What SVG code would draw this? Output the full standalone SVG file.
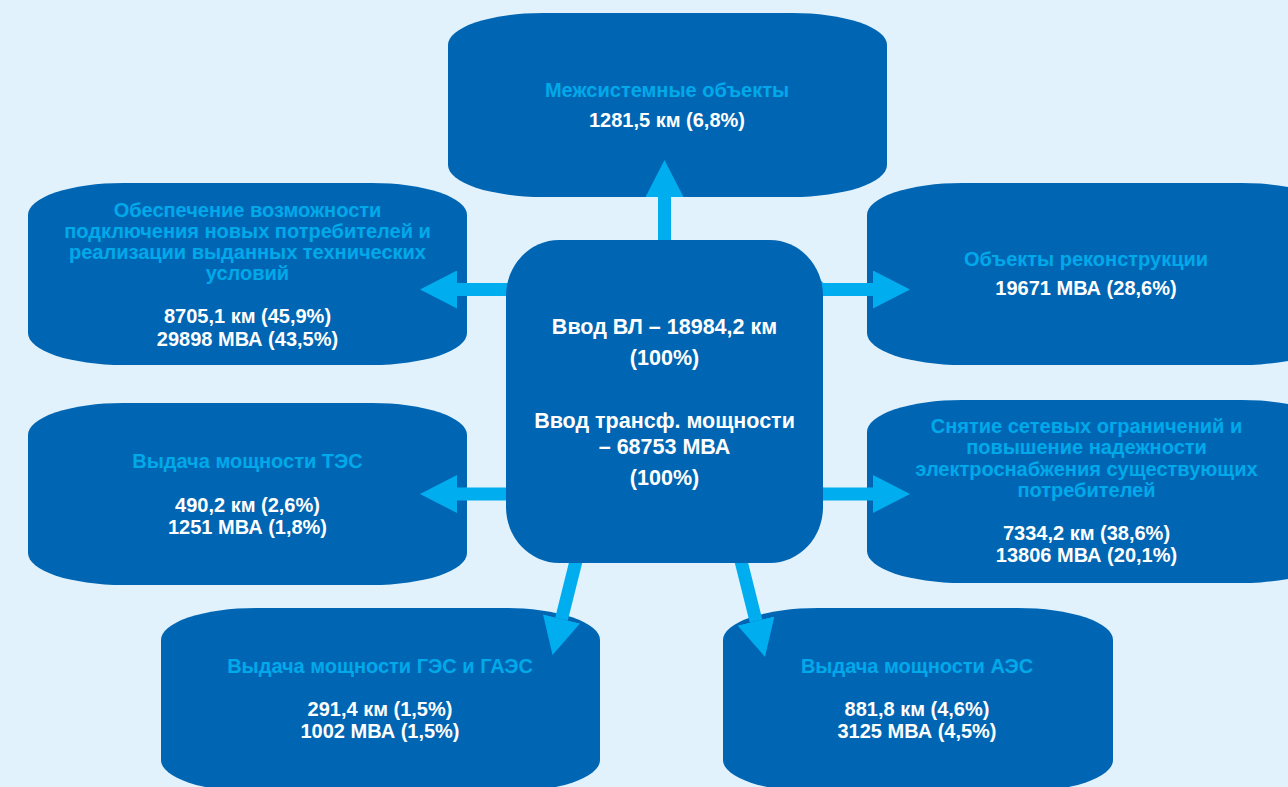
<svg xmlns="http://www.w3.org/2000/svg" width="1288" height="787" viewBox="0 0 1288 787">
<defs>
<style>
.box{fill:#0066B3}
.t{font-family:"Liberation Sans",Arial,sans-serif;font-weight:bold;font-size:20px;text-anchor:middle}
.ti{fill:#00A9EA}
.nu{fill:#FFFFFF}
.c{font-size:21.5px}
.conn{stroke:#00AEEF;stroke-width:13;fill:none;marker-end:url(#ah)}
</style>
<marker id="ah" viewBox="0 0 37 38" refX="0" refY="19" markerWidth="37" markerHeight="38" markerUnits="userSpaceOnUse" orient="auto">
<path d="M0,0 L37,19 L0,38 Z" fill="#00AEEF"/>
</marker>
</defs>
<rect width="1288" height="787" fill="#E1F2FC"/>

<g id="node-mezhsist">
<rect class="box" x="448" y="13" width="439" height="184" rx="95" ry="32"/>
<text class="t ti" x="667" y="97">Межсистемные объекты</text>
<text class="t nu" x="667" y="127">1281,5 км (6,8%)</text>
</g>

<g id="node-obespech">
<rect class="box" x="28" y="183" width="439" height="182" rx="95" ry="32"/>
<text class="t ti" x="247.5" y="217">Обеспечение возможности</text>
<text class="t ti" x="247.5" y="238">подключения новых потребителей и</text>
<text class="t ti" x="247.5" y="259">реализации выданных технических</text>
<text class="t ti" x="247.5" y="280">условий</text>
<text class="t nu" x="247.5" y="323">8705,1 км (45,9%)</text>
<text class="t nu" x="247.5" y="346">29898 МВА (43,5%)</text>
</g>

<g id="node-rekonstr">
<rect class="box" x="867" y="183" width="470" height="182" rx="95" ry="32"/>
<text class="t ti" x="1086" y="266">Объекты реконструкции</text>
<text class="t nu" x="1086" y="295">19671 МВА (28,6%)</text>
</g>

<g id="node-tes">
<rect class="box" x="28" y="403" width="439" height="182" rx="95" ry="32"/>
<text class="t ti" x="247.5" y="468">Выдача мощности ТЭС</text>
<text class="t nu" x="247.5" y="512">490,2 км (2,6%)</text>
<text class="t nu" x="247.5" y="534">1251 МВА (1,8%)</text>
</g>

<g id="node-snyatie">
<rect class="box" x="867" y="400" width="470" height="183" rx="95" ry="32"/>
<text class="t ti" x="1086.5" y="433">Снятие сетевых ограничений и</text>
<text class="t ti" x="1086.5" y="454">повышение надежности</text>
<text class="t ti" x="1086.5" y="476">электроснабжения существующих</text>
<text class="t ti" x="1086.5" y="497">потребителей</text>
<text class="t nu" x="1086.5" y="540">7334,2 км (38,6%)</text>
<text class="t nu" x="1086.5" y="562">13806 МВА (20,1%)</text>
</g>

<g id="node-ges">
<rect class="box" x="161" y="608" width="439" height="184" rx="95" ry="32"/>
<text class="t ti" x="380" y="673">Выдача мощности ГЭС и ГАЭС</text>
<text class="t nu" x="380" y="716">291,4 км (1,5%)</text>
<text class="t nu" x="380" y="738">1002 МВА (1,5%)</text>
</g>

<g id="node-aes">
<rect class="box" x="723" y="608" width="390" height="184" rx="95" ry="32"/>
<text class="t ti" x="917" y="673">Выдача мощности АЭС</text>
<text class="t nu" x="917" y="716">881,8 км (4,6%)</text>
<text class="t nu" x="917" y="738">3125 МВА (4,5%)</text>
</g>

<g id="connectors">
<line class="conn" x1="664.5" y1="250" x2="664.5" y2="197"/>
<line class="conn" x1="530" y1="289.5" x2="457" y2="289.5"/>
<line class="conn" x1="800" y1="289.5" x2="873" y2="289.5"/>
<line class="conn" x1="530" y1="494" x2="457" y2="494"/>
<line class="conn" x1="800" y1="494" x2="873" y2="494"/>
<line class="conn" x1="580" y1="545" x2="561.5" y2="619"/>
<line class="conn" x1="737" y1="545" x2="756" y2="621"/>
<circle cx="813" cy="289.5" r="12" fill="#00AEEF"/>
<circle cx="813" cy="494" r="12" fill="#00AEEF"/>
</g>

<g id="node-center">
<rect class="box" x="506" y="240" width="317" height="323" rx="53" ry="56"/>
<text class="t nu c" x="664.5" y="334">Ввод ВЛ – 18984,2 км</text>
<text class="t nu c" x="664.5" y="365">(100%)</text>
<text class="t nu c" x="664.5" y="428">Ввод трансф. мощности</text>
<text class="t nu c" x="664.5" y="454">– 68753 МВА</text>
<text class="t nu c" x="664.5" y="485">(100%)</text>
</g>
</svg>
